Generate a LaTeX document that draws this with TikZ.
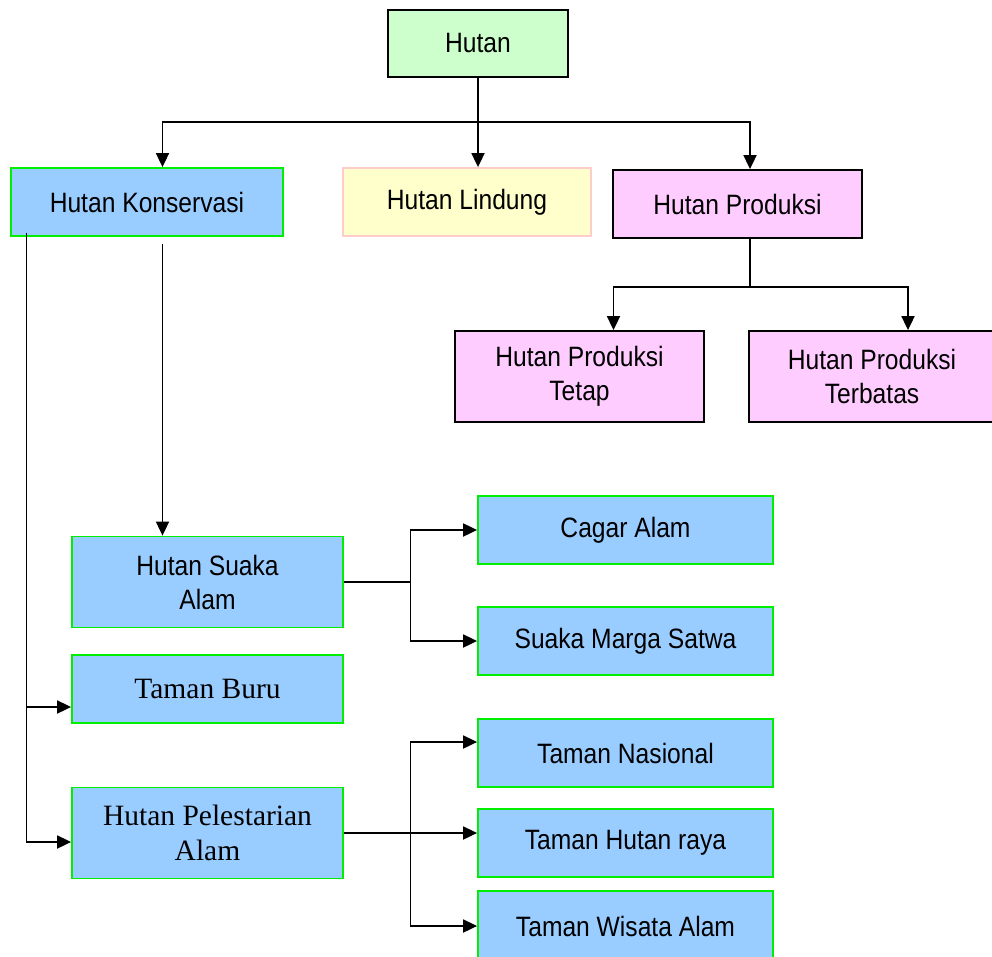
\documentclass[tikz,border=0pt]{standalone}
\usepackage{fontspec}
\setmainfont{Liberation Sans}[FakeStretch=0.88]
\newfontfamily\timesfont{Liberation Serif}
\usetikzlibrary{arrows.meta}

\definecolor{hutangreen}{HTML}{CCFFCC}
\definecolor{konsblue}{HTML}{99CCFF}
\definecolor{edgegreen}{HTML}{00EE00}
\definecolor{lindungyellow}{HTML}{FFFFCC}
\definecolor{lindungedge}{HTML}{FFCCCC}
\definecolor{prodpink}{HTML}{FFCCFF}

\begin{document}
\begin{tikzpicture}[x=1pt, y=-1pt,
    box/.style={draw, rectangle, line width=1.8pt, inner sep=0pt, align=center,
        font=\fontsize{28}{34}\selectfont},
    bluebox/.style={box, fill=konsblue, draw=edgegreen},
    pinkbox/.style={box, fill=prodpink, draw=black},
    serifbox/.style={bluebox, font=\timesfont\fontsize{29.5}{35}\selectfont},
    link/.style={line width=1.8pt},
    arr/.style={link, -{Triangle[length=14pt, width=13pt]}}]
    \useasboundingbox (0,0) rectangle (992,957);

    \node[box, fill=hutangreen, draw=black, minimum width=180pt, minimum height=67pt] (hutan) at (478,43.5) {Hutan};
    \node[bluebox, minimum width=272pt, minimum height=68pt] (konservasi) at (147,202) {Hutan Konservasi};
    \node[box, fill=lindungyellow, draw=lindungedge, minimum width=248pt, minimum height=68pt] (lindung) at (467,202) {Hutan Lindung};
    \node[pinkbox, minimum width=249pt, minimum height=68pt] (produksi) at (737.5,204) {Hutan Produksi};

    \node[pinkbox, minimum width=249pt, minimum height=91pt] (tetap) at (579.5,376.5) {Hutan Produksi\\Tetap};
    \node[pinkbox, minimum width=246pt, minimum height=91pt] (terbatas) at (872,376.5) {Hutan Produksi\\Terbatas};

    \node[bluebox, minimum width=271pt, minimum height=91pt] (suaka) at (207.5,582) {Hutan Suaka\\Alam};
    \node[serifbox, minimum width=271pt, minimum height=68pt] (buru) at (207.5,689) {Taman Buru};
    \node[serifbox, minimum width=271pt, minimum height=91pt] (pelestarian) at (207.5,833) {Hutan Pelestarian\\Alam};

    \node[bluebox, minimum width=295pt, minimum height=68pt] (cagar) at (625.5,530) {Cagar Alam};
    \node[bluebox, minimum width=295pt, minimum height=68pt] (margasatwa) at (625.5,641) {Suaka Marga Satwa};
    \node[bluebox, minimum width=295pt, minimum height=68pt] (nasional) at (625.5,753) {Taman Nasional};
    \node[bluebox, minimum width=295pt, minimum height=68pt] (tahura) at (625.5,843) {Taman Hutan raya};
    \node[bluebox, minimum width=295pt, minimum height=70pt] (wisata) at (625.5,926) {Taman Wisata Alam};

    % Hutan -> three main classes
    \coordinate (topbar) at (478,122);
    \draw[link] (hutan) -- (topbar);
    \draw[arr] (topbar) -- (hutan |- lindung.north);
    \draw[arr] (topbar) -| ([xshift=15.5pt]konservasi.north);
    \draw[arr] (topbar) -| ([xshift=12.5pt]produksi.north);

    % Hutan Produksi
    \coordinate (prodbar) at (750,287);
    \draw[link] ([xshift=12.5pt]produksi.south) -- (prodbar);
    \draw[arr] (prodbar) -| ([xshift=34pt]tetap.north);
    \draw[arr] (prodbar) -| ([xshift=36pt]terbatas.north);

    % Hutan Konservasi
    \draw[arr] ([xshift=15.5pt, yshift=-7pt]konservasi.south) -- ([xshift=-45pt]suaka.north);
    \coordinate (konsleft) at ([xshift=-120.5pt, yshift=4pt]konservasi.south);
    \draw[arr] (konsleft) |- ([yshift=-18pt]buru.west);
    \draw[arr] (konsleft) |- ([yshift=-9pt]pelestarian.west);

    % Hutan Suaka Alam
    \coordinate (suakajoin) at (410.5,582);
    \draw[link] (suaka.east) -- (suakajoin);
    \draw[arr] (suakajoin) |- (cagar.west);
    \draw[arr] (suakajoin) |- (margasatwa.west);

    % Hutan Pelestarian Alam
    \coordinate (pelesjoin) at (410.5,833);
    \draw[arr] (pelestarian.east) -- (pelestarian.east -| tahura.west);
    \draw[arr] (pelesjoin) |- ([yshift=11pt]nasional.west);
    \draw[arr] (pelesjoin) |- (wisata.west);
\end{tikzpicture}
\end{document}
